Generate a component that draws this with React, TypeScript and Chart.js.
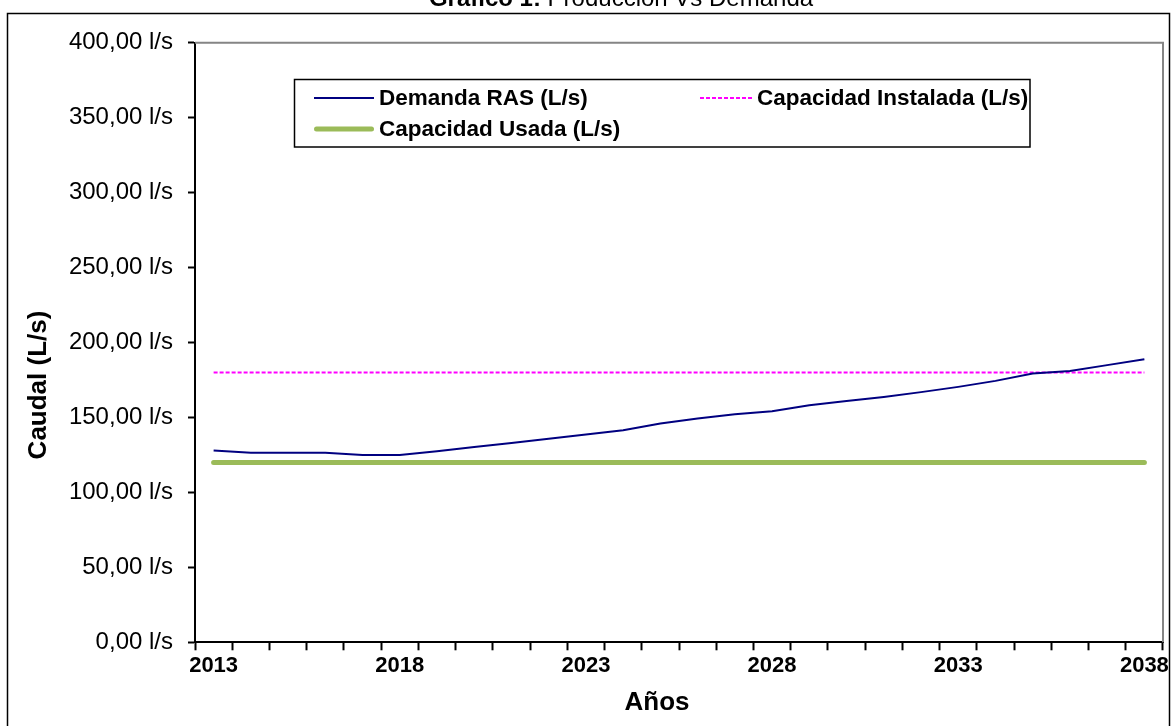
import React, { useEffect, useRef } from 'react';
import { Chart, registerables } from 'chart.js';

Chart.register(...registerables);

const years = [
  '2013', '2014', '2015', '2016', '2017', '2018', '2019', '2020', '2021', '2022', '2023', '2024', '2025',
  '2026', '2027', '2028', '2029', '2030', '2031', '2032', '2033', '2034', '2035', '2036', '2037', '2038',
];

const demandaRAS = [
  128, 126.5, 126.5, 126.5, 125, 125, 127.5, 130.3, 133, 135.8, 138.6, 141.5, 146,
  149.3, 152.2, 154.2, 158.2, 160.9, 163.7, 166.9, 170.4, 174.4, 179.3, 181, 184.9, 188.9,
];

const capacidadInstalada = [
  180, 180, 180, 180, 180, 180, 180, 180, 180, 180, 180, 180, 180,
  180, 180, 180, 180, 180, 180, 180, 180, 180, 180, 180, 180, 180,
];

const capacidadUsada = [
  120, 120, 120, 120, 120, 120, 120, 120, 120, 120, 120, 120, 120,
  120, 120, 120, 120, 120, 120, 120, 120, 120, 120, 120, 120, 120,
];

const seriesLabels = ['Demanda RAS (L/s)', 'Capacidad Instalada (L/s)', 'Capacidad Usada (L/s)'];
const titleBold = 'Gráfico 1:';
const titleRest = ' Producción Vs Demanda';
const xTitle = 'Años';
const yTitle = 'Caudal (L/s)';

const FONT = '"Liberation Sans", Arial, sans-serif';

const decorPlugin = {
  id: 'decor',
  beforeDraw(chart: any) {
    const ctx = chart.ctx;
    ctx.save();
    ctx.fillStyle = '#ffffff';
    ctx.fillRect(0, 0, chart.width, chart.height);
    ctx.restore();
  },
  beforeDatasetsDraw(chart: any) {
    const ctx = chart.ctx;
    const { left, right, top, bottom } = chart.chartArea;
    ctx.save();
    ctx.strokeStyle = '#858585';
    ctx.lineWidth = 2;
    ctx.beginPath();
    ctx.moveTo(left, top);
    ctx.lineTo(right, top);
    ctx.lineTo(right, bottom);
    ctx.stroke();
    ctx.restore();
  },
  afterDraw(chart: any) {
    const ctx = chart.ctx;
    ctx.save();
    // outer chart border
    ctx.strokeStyle = '#000';
    ctx.lineWidth = 1.5;
    ctx.strokeRect(7.5, 13.5, 1162, 800);

    // title (partially above the canvas)
    ctx.fillStyle = '#000';
    ctx.textBaseline = 'alphabetic';
    ctx.font = `bold 24px ${FONT}`;
    const wb = ctx.measureText(titleBold).width;
    ctx.font = `24px ${FONT}`;
    const wr = ctx.measureText(titleRest).width;
    const tx = 621 - (wb + wr) / 2;
    ctx.font = `bold 24px ${FONT}`;
    ctx.textAlign = 'left';
    ctx.fillText(titleBold, tx, 6);
    ctx.font = `24px ${FONT}`;
    ctx.fillText(titleRest, tx + wb, 6);

    // axis titles
    ctx.font = `bold 26px ${FONT}`;
    ctx.textAlign = 'center';
    ctx.textBaseline = 'middle';
    ctx.fillText(xTitle, 657, 703);
    ctx.save();
    ctx.translate(39, 385);
    ctx.rotate(-Math.PI / 2);
    ctx.fillText(yTitle, 0, 0);
    ctx.restore();

    // legend
    const box = { x: 294.5, y: 79.5, w: 735.5, h: 67.5 };
    ctx.fillStyle = '#fff';
    ctx.fillRect(box.x, box.y, box.w, box.h);
    ctx.strokeStyle = '#000';
    ctx.lineWidth = 1.5;
    ctx.strokeRect(box.x, box.y, box.w, box.h);
    const slots = [
      { x: 314, y: 98, len: 60 },
      { x: 700, y: 98, len: 52 },
      { x: 314, y: 129, len: 60 },
    ];
    chart.data.datasets.forEach((ds: any, i: number) => {
      const s = slots[i];
      ctx.save();
      ctx.strokeStyle = ds.borderColor;
      ctx.lineWidth = ds.borderWidth;
      ctx.lineCap = ds.borderCapStyle || 'butt';
      ctx.setLineDash(ds.borderDash || []);
      const inset = ds.borderCapStyle === 'round' ? ds.borderWidth / 2 : 0;
      ctx.beginPath();
      ctx.moveTo(s.x + inset, s.y);
      ctx.lineTo(s.x + s.len - inset, s.y);
      ctx.stroke();
      ctx.restore();
      ctx.fillStyle = '#000';
      ctx.font = `bold 22.5px ${FONT}`;
      ctx.textAlign = 'left';
      ctx.textBaseline = 'middle';
      ctx.fillText(ds.label, s.x + s.len + 5, s.y + 1);
    });
    ctx.restore();
  },
};

export default function App() {
  const canvasRef = useRef<HTMLCanvasElement | null>(null);

  useEffect(() => {
    if (!canvasRef.current) return;
    const chart = new Chart(canvasRef.current, {
      type: 'line',
      data: {
        labels: years,
        datasets: [
          {
            label: seriesLabels[0],
            data: demandaRAS,
            borderColor: '#000080',
            borderWidth: 2,
            pointRadius: 0,
            tension: 0,
            fill: false,
          },
          {
            label: seriesLabels[1],
            data: capacidadInstalada,
            borderColor: '#FF00FF',
            borderWidth: 2,
            borderDash: [4, 2],
            pointRadius: 0,
            tension: 0,
            fill: false,
          },
          {
            label: seriesLabels[2],
            data: capacidadUsada,
            borderColor: '#9BBB59',
            borderWidth: 5,
            borderCapStyle: 'round',
            pointRadius: 0,
            tension: 0,
            fill: false,
          },
        ],
      },
      options: {
        animation: false,
        responsive: false,
        devicePixelRatio: 1,
        layout: { padding: { left: 0, right: 9, top: 42.7, bottom: 0 } },
        plugins: {
          legend: { display: false },
          title: { display: false },
          tooltip: { enabled: false },
        },
        scales: {
          x: {
            type: 'category',
            offset: true,
            grid: {
              offset: true,
              drawOnChartArea: false,
              drawTicks: true,
              tickLength: 8,
              tickWidth: 2,
              tickColor: '#000',
            },
            border: { display: true, color: '#000', width: 2 },
            ticks: {
              autoSkip: false,
              maxRotation: 0,
              minRotation: 0,
              padding: 2,
              color: '#000',
              font: { family: FONT, size: 22, weight: 'bold' },
              callback: (_v: any, i: number) => (i % 5 === 0 ? years[i] : ''),
            },
            afterFit: (scale: any) => {
              scale.height = 726 - 642.3;
            },
          },
          y: {
            min: 0,
            max: 400,
            grid: {
              drawOnChartArea: false,
              drawTicks: true,
              tickLength: 7,
              tickWidth: 2,
              tickColor: '#000',
            },
            border: { display: true, color: '#000', width: 2 },
            ticks: {
              stepSize: 50,
              padding: 15,
              color: '#000',
              font: { family: FONT, size: 24 },
              callback: (v: any) => `${Number(v).toFixed(2).replace('.', ',')} l/s`,
            },
            afterFit: (scale: any) => {
              scale.width = 195;
            },
          },
        },
      },
      plugins: [decorPlugin],
    } as any);
    return () => chart.destroy();
  }, []);

  return (
    <div style={{ position: 'fixed', left: 0, top: 0, width: 1172, height: 726, background: '#fff' }}>
      <canvas ref={canvasRef} width={1172} height={726} style={{ width: 1172, height: 726, display: 'block' }} />
    </div>
  );
}
